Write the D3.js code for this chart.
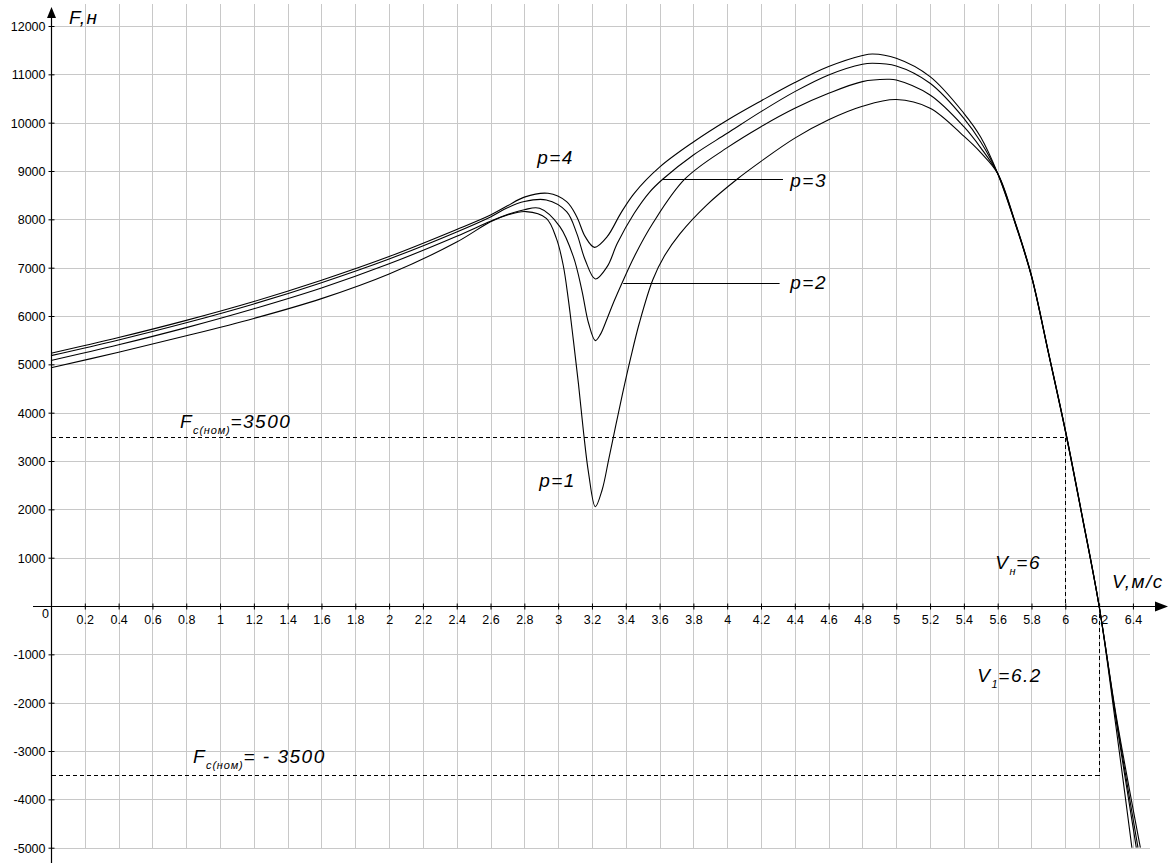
<!DOCTYPE html>
<html>
<head>
<meta charset="utf-8">
<script src="https://cdn.jsdelivr.net/npm/d3@7"></script>
<style>
  html, body { margin: 0; padding: 0; background: #fff; }
  svg { display: block; }
  text { font-family: "Liberation Sans", Arial, sans-serif; fill: #000; }
</style>
</head>
<body>
<svg id="chart" width="1174" height="863"></svg>
<script>
// ---------- data ----------
const xTicks = [0.2,0.4,0.6,0.8,1,1.2,1.4,1.6,1.8,2,2.2,2.4,2.6,2.8,3,3.2,3.4,3.6,3.8,4,4.2,4.4,4.6,4.8,5,5.2,5.4,5.6,5.8,6,6.2,6.4];
const yTicks = [-5000,-4000,-3000,-2000,-1000,1000,2000,3000,4000,5000,6000,7000,8000,9000,10000,11000,12000];

// p = 4
const v4 = [0,0.4,0.8,1.2,1.6,2.0,2.4,2.6,2.7,2.8,2.94,3.05,3.11,3.16,3.215,3.29,3.37,3.45,3.6,3.8,4.0,4.2,4.4,4.6,4.8,4.86,5.0,5.2,5.4,5.5,5.6,5.7,5.8,5.9,6.0,6.1,6.2,6.3,6.444];
const f4 = [5230,5555,5910,6300,6740,7230,7790,8090,8280,8460,8539,8366,8055,7642,7421,7642,8124,8539,9080,9600,10050,10450,10830,11160,11390,11421,11333,10953,10194,9700,8950,7950,6814,5230,3620,1840,0,-2250,-5000];
// p = 3
const v3 = [0,0.4,0.8,1.2,1.6,2.0,2.4,2.6,2.7,2.8,2.93,3.05,3.11,3.16,3.22,3.29,3.35,3.45,3.54,3.62,3.8,4.0,4.2,4.4,4.6,4.8,4.86,5.0,5.2,5.4,5.5,5.6,5.7,5.8,5.9,6.0,6.1,6.2,6.3,6.43];
const f3 = [5180,5505,5860,6250,6690,7180,7740,8050,8240,8370,8400,8160,7710,7159,6766,7021,7504,8125,8560,8835,9331,9780,10228,10642,10987,11208,11228,11173,10815,10090,9600,8950,7960,6820,5240,3630,1850,0,-2300,-5000];
// p = 2
const v2 = [0,0.4,0.8,1.2,1.6,2.0,2.4,2.6,2.7,2.8,2.89,3.01,3.09,3.14,3.18,3.22,3.25,3.29,3.33,3.38,3.45,3.56,3.75,4.0,4.2,4.4,4.6,4.8,4.945,5.0,5.2,5.4,5.5,5.6,5.7,5.8,5.9,6.0,6.1,6.2,6.3,6.42];
const f2 = [5080,5405,5760,6150,6580,7080,7650,7960,8100,8200,8228,7850,7228,6538,5850,5490,5620,5950,6300,6700,7228,7918,8835,9483,9917,10297,10607,10849,10897,10883,10573,9917,9480,8950,7970,6830,5250,3640,1860,0,-2350,-5000];
// p = 1
const v1 = [0,0.4,0.8,1.2,1.6,2.0,2.4,2.6,2.7,2.81,2.93,2.99,3.03,3.06,3.09,3.12,3.15,3.18,3.22,3.26,3.30,3.34,3.38,3.43,3.48,3.56,3.63,3.72,3.88,4.06,4.2,4.4,4.6,4.8,5.0,5.2,5.4,5.5,5.6,5.7,5.8,5.9,6.0,6.1,6.2,6.3,6.394];
const f1 = [4930,5250,5590,5950,6360,6870,7530,7950,8090,8160,8021,7600,7050,6350,5500,4600,3600,2750,2055,2400,3050,3720,4380,5150,5850,6750,7250,7700,8300,8835,9200,9680,10060,10340,10480,10300,9720,9380,8950,7980,6840,5260,3650,1870,0,-2500,-5000];

const fNom = 3500;     // F c(nom)
const vNom = 6;        // V н
const vOne = 6.2;      // V 1

// ---------- layout ----------
const svg = d3.select("#chart");
const x = d3.scaleLinear().domain([0, 6.5]).range([51, 51 + 6.5 * 169.05]);
const y = d3.scaleLinear().domain([-5000, 12000]).range([847.7, 26]);
const X0 = Math.round(x(0)) + 0.5;
const Y0 = Math.round(y(0)) + 0.5;

// ---------- grid ----------
const grid = svg.append("g").attr("stroke", "#c8c8c8").attr("stroke-width", 1).attr("shape-rendering", "crispEdges");
grid.selectAll("line.v").data(xTicks).join("line")
  .attr("x1", d => Math.round(x(d)) + 0.5).attr("x2", d => Math.round(x(d)) + 0.5)
  .attr("y1", 4).attr("y2", Math.round(y(-5000)) + 0.5);
grid.selectAll("line.h").data(yTicks).join("line")
  .attr("x1", X0).attr("x2", x(6.5))
  .attr("y1", d => Math.round(y(d)) + 0.5).attr("y2", d => Math.round(y(d)) + 0.5);

// ---------- dashed reference lines ----------
const dash = svg.append("g").attr("stroke", "#000").attr("stroke-width", 1)
  .attr("stroke-dasharray", "4,3").attr("fill", "none").attr("shape-rendering", "crispEdges");
const rl = (a, b, c, d) => dash.append("line")
  .attr("x1", Math.round(x(a)) + 0.5).attr("y1", Math.round(y(b)) + 0.5)
  .attr("x2", Math.round(x(c)) + 0.5).attr("y2", Math.round(y(d)) + 0.5);
rl(0, fNom, vNom, fNom);
rl(vNom, fNom, vNom, 0);
rl(0, -fNom, vOne, -fNom);
rl(vOne, 0, vOne, -fNom);

// ---------- curves ----------
const line = d3.line().x(d => x(d[0])).y(d => y(d[1])).curve(d3.curveCatmullRom.alpha(0.5));
const series = [[v1, f1], [v2, f2], [v3, f3], [v4, f4]];
svg.append("g").selectAll("path").data(series).join("path")
  .attr("d", s => line(s[0].map((v, i) => [v, s[1][i]])))
  .attr("fill", "none").attr("stroke", "#000").attr("stroke-width", 1.1);

// ---------- axes ----------
const xAxis = svg.append("g").attr("transform", `translate(0,${Y0})`)
  .call(d3.axisBottom(x).tickValues(xTicks).tickSize(3).tickFormat(d => String(+d.toFixed(1))));
xAxis.select(".domain").remove();
xAxis.selectAll(".tick line").attr("y1", -3).attr("y2", 3).attr("stroke", "#000");
xAxis.selectAll(".tick text").attr("y", 17).attr("dy", 0)
  .attr("font-size", 12.5).attr("font-family", "Liberation Sans, Arial, sans-serif").attr("fill", "#000");

const yAxis = svg.append("g").attr("transform", `translate(${X0},0)`)
  .call(d3.axisLeft(y).tickValues(yTicks).tickSize(3).tickFormat(d => String(d)));
yAxis.select(".domain").remove();
yAxis.selectAll(".tick line").attr("x1", -3).attr("x2", 3).attr("stroke", "#000");
yAxis.selectAll(".tick text").attr("x", -6).attr("dy", "0.35em")
  .attr("font-size", 12.5).attr("font-family", "Liberation Sans, Arial, sans-serif").attr("fill", "#000");

// axis lines + arrows
svg.append("line").attr("x1", X0).attr("x2", X0).attr("y1", 14).attr("y2", 863)
  .attr("stroke", "#000").attr("stroke-width", 1.2);
svg.append("line").attr("x1", 33).attr("x2", 1158).attr("y1", Y0).attr("y2", Y0)
  .attr("stroke", "#000").attr("stroke-width", 1.2);
svg.append("path").attr("d", `M${X0},7 L${X0 - 4.5},18 L${X0 + 4.5},18 Z`).attr("fill", "#000");
svg.append("path").attr("d", `M1168,${Y0} L1155,${Y0 - 5} L1155,${Y0 + 5} Z`).attr("fill", "#000");

// origin label
svg.append("text").attr("x", X0 - 6).attr("y", Y0 + 11).attr("text-anchor", "middle")
  .attr("font-size", 12.5).text("0");

// ---------- annotations ----------
const big = 19;
function label(v, f, parts) {
  const t = svg.append("text").attr("x", x(v)).attr("y", y(f))
    .attr("font-style", "italic").attr("font-size", big).attr("letter-spacing", 1.5);
  let shift = 0;
  parts.forEach(p => {
    const sp = t.append("tspan").text(p.t);
    if (p.sub) {
      sp.attr("font-size", 11).attr("dy", p.sub - shift).attr("letter-spacing", 0.8);
      shift = p.sub;
    } else {
      sp.attr("font-size", big).attr("dy", -shift);
      shift = 0;
    }
  });
  return t;
}
label(0.107, 12042, [{t: "F,н"}]);
label(6.276, 372, [{t: "V,м/с"}]);
label(2.876, 9145, [{t: "p=4"}]);
label(4.373, 8669, [{t: "p=3"}]);
label(4.373, 6559, [{t: "p=2"}]);
label(2.888, 2462, [{t: "p=1"}]);
label(0.763, 3683, [{t: "F"}, {t: "с(ном)", sub: 6}, {t: "=3500"}]);
label(0.840, -3249, [{t: "F"}, {t: "с(ном)", sub: 6}, {t: "= - 3500"}]);
label(5.586, 766, [{t: "V"}, {t: "н", sub: 6}, {t: "=6"}]);
label(5.479, -1573, [{t: "V"}, {t: "1", sub: 6}, {t: "=6.2"}]);

// leader lines
const leaders = [[3.62, 4.33, 8835], [3.385, 4.31, 6680]];
svg.append("g").selectAll("line").data(leaders).join("line")
  .attr("x1", d => x(d[0])).attr("x2", d => x(d[1]))
  .attr("y1", d => Math.round(y(d[2])) + 0.5).attr("y2", d => Math.round(y(d[2])) + 0.5)
  .attr("stroke", "#000").attr("stroke-width", 1);
</script>
</body>
</html>
